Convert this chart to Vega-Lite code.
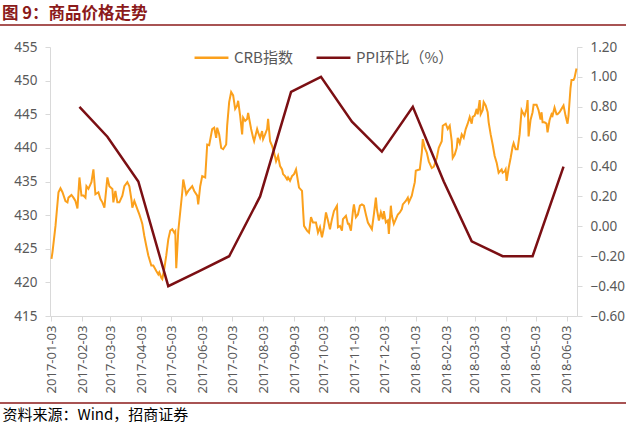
{
  "$schema": "https://vega.github.io/schema/vega-lite/v6.json",
  "width": 527,
  "height": 269,
  "autosize": {"type": "none"},
  "padding": {"left": 50, "top": 47, "right": 49, "bottom": 107},
  "background": "#ffffff",
  "title": {
    "text": "图 9：商品价格走势",
    "anchor": "start",
    "frame": "group",
    "orient": "top",
    "dx": -48,
    "offset": 2,
    "fontSize": 16.5,
    "fontWeight": "bold",
    "color": "#8B1A1A",
    "font": "Noto Sans CJK SC"
  },
  "config": {
    "view": {"stroke": null},
    "font": "Noto Sans CJK SC",
    "axis": {"grid": false, "labelOverlap": false}
  },
  "data": {
    "values": [
      {"series": "CRB指数", "date": "2017-01-03", "value": 423.5}, {"series": "CRB指数", "date": "2017-01-04", "value": 424.5}, {"series": "CRB指数", "date": "2017-01-07", "value": 428.4}, {"series": "CRB指数", "date": "2017-01-10", "value": 433.4}, {"series": "CRB指数", "date": "2017-01-12", "value": 434.0}, {"series": "CRB指数", "date": "2017-01-14", "value": 433.4}, {"series": "CRB指数", "date": "2017-01-17", "value": 432.1}, {"series": "CRB指数", "date": "2017-01-19", "value": 431.9}, {"series": "CRB指数", "date": "2017-01-20", "value": 432.6}, {"series": "CRB指数", "date": "2017-01-23", "value": 433.0}, {"series": "CRB指数", "date": "2017-01-25", "value": 432.6}, {"series": "CRB指数", "date": "2017-01-27", "value": 432.1}, {"series": "CRB指数", "date": "2017-01-29", "value": 431.0}, {"series": "CRB指数", "date": "2017-01-31", "value": 435.6},
      {"series": "CRB指数", "date": "2017-02-02", "value": 432.9}, {"series": "CRB指数", "date": "2017-02-04", "value": 432.9}, {"series": "CRB指数", "date": "2017-02-06", "value": 432.6}, {"series": "CRB指数", "date": "2017-02-07", "value": 434.3}, {"series": "CRB指数", "date": "2017-02-09", "value": 433.9}, {"series": "CRB指数", "date": "2017-02-12", "value": 434.9}, {"series": "CRB指数", "date": "2017-02-14", "value": 436.8}, {"series": "CRB指数", "date": "2017-02-16", "value": 433.1}, {"series": "CRB指数", "date": "2017-02-19", "value": 433.4}, {"series": "CRB指数", "date": "2017-02-21", "value": 432.4}, {"series": "CRB指数", "date": "2017-02-23", "value": 431.9}, {"series": "CRB指数", "date": "2017-02-25", "value": 431.1}, {"series": "CRB指数", "date": "2017-02-28", "value": 435.6},
      {"series": "CRB指数", "date": "2017-03-02", "value": 434.3}, {"series": "CRB指数", "date": "2017-03-05", "value": 433.9}, {"series": "CRB指数", "date": "2017-03-06", "value": 431.9}, {"series": "CRB指数", "date": "2017-03-08", "value": 433.6}, {"series": "CRB指数", "date": "2017-03-10", "value": 431.9}, {"series": "CRB指数", "date": "2017-03-12", "value": 431.9}, {"series": "CRB指数", "date": "2017-03-15", "value": 432.9}, {"series": "CRB指数", "date": "2017-03-17", "value": 434.3}, {"series": "CRB指数", "date": "2017-03-20", "value": 434.9}, {"series": "CRB指数", "date": "2017-03-22", "value": 434.3}, {"series": "CRB指数", "date": "2017-03-24", "value": 432.4}, {"series": "CRB指数", "date": "2017-03-25", "value": 431.1}, {"series": "CRB指数", "date": "2017-03-27", "value": 432.1}, {"series": "CRB指数", "date": "2017-03-30", "value": 430.9},
      {"series": "CRB指数", "date": "2017-04-01", "value": 430.1}, {"series": "CRB指数", "date": "2017-04-03", "value": 429.2}, {"series": "CRB指数", "date": "2017-04-04", "value": 428.7}, {"series": "CRB指数", "date": "2017-04-06", "value": 426.9}, {"series": "CRB指数", "date": "2017-04-08", "value": 425.4}, {"series": "CRB指数", "date": "2017-04-10", "value": 424.0}, {"series": "CRB指数", "date": "2017-04-13", "value": 422.5}, {"series": "CRB指数", "date": "2017-04-15", "value": 422.5}, {"series": "CRB指数", "date": "2017-04-18", "value": 421.7}, {"series": "CRB指数", "date": "2017-04-20", "value": 421.2}, {"series": "CRB指数", "date": "2017-04-21", "value": 421.5}, {"series": "CRB指数", "date": "2017-04-23", "value": 420.7}, {"series": "CRB指数", "date": "2017-04-24", "value": 420.5}, {"series": "CRB指数", "date": "2017-04-26", "value": 422.0}, {"series": "CRB指数", "date": "2017-04-28", "value": 424.0}, {"series": "CRB指数", "date": "2017-04-30", "value": 426.4},
      {"series": "CRB指数", "date": "2017-05-02", "value": 427.7}, {"series": "CRB指数", "date": "2017-05-04", "value": 427.9}, {"series": "CRB指数", "date": "2017-05-06", "value": 427.4}, {"series": "CRB指数", "date": "2017-05-07", "value": 427.6}, {"series": "CRB指数", "date": "2017-05-08", "value": 422.1}, {"series": "CRB指数", "date": "2017-05-10", "value": 427.6}, {"series": "CRB指数", "date": "2017-05-14", "value": 433.4}, {"series": "CRB指数", "date": "2017-05-15", "value": 435.3}, {"series": "CRB指数", "date": "2017-05-18", "value": 433.1}, {"series": "CRB指数", "date": "2017-05-20", "value": 433.6}, {"series": "CRB指数", "date": "2017-05-24", "value": 434.3}, {"series": "CRB指数", "date": "2017-05-26", "value": 433.6}, {"series": "CRB指数", "date": "2017-05-29", "value": 432.9}, {"series": "CRB指数", "date": "2017-05-30", "value": 431.6},
      {"series": "CRB指数", "date": "2017-06-01", "value": 434.3}, {"series": "CRB指数", "date": "2017-06-03", "value": 435.8}, {"series": "CRB指数", "date": "2017-06-06", "value": 435.6}, {"series": "CRB指数", "date": "2017-06-08", "value": 440.5}, {"series": "CRB指数", "date": "2017-06-10", "value": 440.4}, {"series": "CRB指数", "date": "2017-06-13", "value": 442.8}, {"series": "CRB指数", "date": "2017-06-15", "value": 443.0}, {"series": "CRB指数", "date": "2017-06-17", "value": 441.5}, {"series": "CRB指数", "date": "2017-06-18", "value": 443.0}, {"series": "CRB指数", "date": "2017-06-20", "value": 442.0}, {"series": "CRB指数", "date": "2017-06-22", "value": 440.0}, {"series": "CRB指数", "date": "2017-06-24", "value": 439.8}, {"series": "CRB指数", "date": "2017-06-27", "value": 440.5}, {"series": "CRB指数", "date": "2017-06-28", "value": 443.3}, {"series": "CRB指数", "date": "2017-06-30", "value": 446.8},
      {"series": "CRB指数", "date": "2017-07-02", "value": 448.3}, {"series": "CRB指数", "date": "2017-07-04", "value": 447.8}, {"series": "CRB指数", "date": "2017-07-06", "value": 445.8}, {"series": "CRB指数", "date": "2017-07-08", "value": 446.3}, {"series": "CRB指数", "date": "2017-07-09", "value": 447.0}, {"series": "CRB指数", "date": "2017-07-11", "value": 444.8}, {"series": "CRB指数", "date": "2017-07-13", "value": 442.0}, {"series": "CRB指数", "date": "2017-07-14", "value": 444.5}, {"series": "CRB指数", "date": "2017-07-16", "value": 444.0}, {"series": "CRB指数", "date": "2017-07-18", "value": 444.3}, {"series": "CRB指数", "date": "2017-07-19", "value": 445.2}, {"series": "CRB指数", "date": "2017-07-22", "value": 442.8}, {"series": "CRB指数", "date": "2017-07-24", "value": 441.5}, {"series": "CRB指数", "date": "2017-07-25", "value": 441.0}, {"series": "CRB指数", "date": "2017-07-28", "value": 442.8}, {"series": "CRB指数", "date": "2017-07-29", "value": 442.3}, {"series": "CRB指数", "date": "2017-07-31", "value": 441.5},
      {"series": "CRB指数", "date": "2017-08-02", "value": 442.5}, {"series": "CRB指数", "date": "2017-08-03", "value": 441.3}, {"series": "CRB指数", "date": "2017-08-05", "value": 442.0}, {"series": "CRB指数", "date": "2017-08-07", "value": 442.8}, {"series": "CRB指数", "date": "2017-08-08", "value": 444.3}, {"series": "CRB指数", "date": "2017-08-10", "value": 441.0}, {"series": "CRB指数", "date": "2017-08-12", "value": 440.3}, {"series": "CRB指数", "date": "2017-08-14", "value": 439.3}, {"series": "CRB指数", "date": "2017-08-16", "value": 438.0}, {"series": "CRB指数", "date": "2017-08-18", "value": 438.8}, {"series": "CRB指数", "date": "2017-08-20", "value": 437.3}, {"series": "CRB指数", "date": "2017-08-22", "value": 436.8}, {"series": "CRB指数", "date": "2017-08-23", "value": 436.1}, {"series": "CRB指数", "date": "2017-08-25", "value": 435.8}, {"series": "CRB指数", "date": "2017-08-27", "value": 435.3}, {"series": "CRB指数", "date": "2017-08-28", "value": 435.6}, {"series": "CRB指数", "date": "2017-08-30", "value": 435.1},
      {"series": "CRB指数", "date": "2017-09-01", "value": 435.8}, {"series": "CRB指数", "date": "2017-09-03", "value": 436.1}, {"series": "CRB指数", "date": "2017-09-05", "value": 436.8}, {"series": "CRB指数", "date": "2017-09-07", "value": 435.0}, {"series": "CRB指数", "date": "2017-09-08", "value": 434.1}, {"series": "CRB指数", "date": "2017-09-11", "value": 433.6}, {"series": "CRB指数", "date": "2017-09-12", "value": 430.9}, {"series": "CRB指数", "date": "2017-09-13", "value": 428.4}, {"series": "CRB指数", "date": "2017-09-16", "value": 427.7}, {"series": "CRB指数", "date": "2017-09-18", "value": 427.4}, {"series": "CRB指数", "date": "2017-09-20", "value": 429.7}, {"series": "CRB指数", "date": "2017-09-22", "value": 428.9}, {"series": "CRB指数", "date": "2017-09-25", "value": 428.9}, {"series": "CRB指数", "date": "2017-09-27", "value": 427.4}, {"series": "CRB指数", "date": "2017-09-29", "value": 428.2},
      {"series": "CRB指数", "date": "2017-10-01", "value": 426.7}, {"series": "CRB指数", "date": "2017-10-03", "value": 428.2}, {"series": "CRB指数", "date": "2017-10-05", "value": 430.4}, {"series": "CRB指数", "date": "2017-10-07", "value": 429.2}, {"series": "CRB指数", "date": "2017-10-09", "value": 427.9}, {"series": "CRB指数", "date": "2017-10-11", "value": 429.4}, {"series": "CRB指数", "date": "2017-10-13", "value": 430.6}, {"series": "CRB指数", "date": "2017-10-16", "value": 431.4}, {"series": "CRB指数", "date": "2017-10-17", "value": 428.2}, {"series": "CRB指数", "date": "2017-10-19", "value": 428.4}, {"series": "CRB指数", "date": "2017-10-21", "value": 427.7}, {"series": "CRB指数", "date": "2017-10-22", "value": 429.4}, {"series": "CRB指数", "date": "2017-10-25", "value": 429.9}, {"series": "CRB指数", "date": "2017-10-27", "value": 428.7}, {"series": "CRB指数", "date": "2017-10-28", "value": 428.7}, {"series": "CRB指数", "date": "2017-10-30", "value": 427.7},
      {"series": "CRB指数", "date": "2017-11-01", "value": 430.6}, {"series": "CRB指数", "date": "2017-11-02", "value": 431.6}, {"series": "CRB指数", "date": "2017-11-04", "value": 429.7}, {"series": "CRB指数", "date": "2017-11-06", "value": 430.1}, {"series": "CRB指数", "date": "2017-11-08", "value": 431.4}, {"series": "CRB指数", "date": "2017-11-10", "value": 431.6}, {"series": "CRB指数", "date": "2017-11-12", "value": 431.4}, {"series": "CRB指数", "date": "2017-11-14", "value": 430.1}, {"series": "CRB指数", "date": "2017-11-16", "value": 428.9}, {"series": "CRB指数", "date": "2017-11-18", "value": 428.4}, {"series": "CRB指数", "date": "2017-11-20", "value": 427.9}, {"series": "CRB指数", "date": "2017-11-22", "value": 430.1}, {"series": "CRB指数", "date": "2017-11-24", "value": 432.6}, {"series": "CRB指数", "date": "2017-11-25", "value": 430.9}, {"series": "CRB指数", "date": "2017-11-27", "value": 429.2}, {"series": "CRB指数", "date": "2017-11-29", "value": 430.4},
      {"series": "CRB指数", "date": "2017-12-01", "value": 429.4}, {"series": "CRB指数", "date": "2017-12-02", "value": 430.6}, {"series": "CRB指数", "date": "2017-12-04", "value": 428.9}, {"series": "CRB指数", "date": "2017-12-06", "value": 429.2}, {"series": "CRB指数", "date": "2017-12-07", "value": 427.2}, {"series": "CRB指数", "date": "2017-12-09", "value": 431.4}, {"series": "CRB指数", "date": "2017-12-10", "value": 429.9}, {"series": "CRB指数", "date": "2017-12-12", "value": 428.7}, {"series": "CRB指数", "date": "2017-12-14", "value": 429.4}, {"series": "CRB指数", "date": "2017-12-16", "value": 430.1}, {"series": "CRB指数", "date": "2017-12-18", "value": 430.4}, {"series": "CRB指数", "date": "2017-12-20", "value": 430.9}, {"series": "CRB指数", "date": "2017-12-21", "value": 431.6}, {"series": "CRB指数", "date": "2017-12-24", "value": 432.1}, {"series": "CRB指数", "date": "2017-12-26", "value": 432.6}, {"series": "CRB指数", "date": "2017-12-27", "value": 431.9}, {"series": "CRB指数", "date": "2017-12-30", "value": 432.9}, {"series": "CRB指数", "date": "2017-12-31", "value": 433.6},
      {"series": "CRB指数", "date": "2018-01-02", "value": 434.9}, {"series": "CRB指数", "date": "2018-01-03", "value": 436.6}, {"series": "CRB指数", "date": "2018-01-05", "value": 436.7}, {"series": "CRB指数", "date": "2018-01-07", "value": 436.8}, {"series": "CRB指数", "date": "2018-01-09", "value": 439.3}, {"series": "CRB指数", "date": "2018-01-10", "value": 441.3}, {"series": "CRB指数", "date": "2018-01-12", "value": 440.0}, {"series": "CRB指数", "date": "2018-01-14", "value": 439.3}, {"series": "CRB指数", "date": "2018-01-16", "value": 438.0}, {"series": "CRB指数", "date": "2018-01-19", "value": 437.0}, {"series": "CRB指数", "date": "2018-01-21", "value": 437.2}, {"series": "CRB指数", "date": "2018-01-24", "value": 438.5}, {"series": "CRB指数", "date": "2018-01-26", "value": 440.0}, {"series": "CRB指数", "date": "2018-01-29", "value": 441.0}, {"series": "CRB指数", "date": "2018-01-30", "value": 443.3},
      {"series": "CRB指数", "date": "2018-02-02", "value": 443.6}, {"series": "CRB指数", "date": "2018-02-04", "value": 442.8}, {"series": "CRB指数", "date": "2018-02-06", "value": 443.3}, {"series": "CRB指数", "date": "2018-02-08", "value": 441.0}, {"series": "CRB指数", "date": "2018-02-09", "value": 438.5}, {"series": "CRB指数", "date": "2018-02-11", "value": 439.0}, {"series": "CRB指数", "date": "2018-02-13", "value": 440.0}, {"series": "CRB指数", "date": "2018-02-14", "value": 441.5}, {"series": "CRB指数", "date": "2018-02-16", "value": 440.7}, {"series": "CRB指数", "date": "2018-02-18", "value": 442.0}, {"series": "CRB指数", "date": "2018-02-20", "value": 441.5}, {"series": "CRB指数", "date": "2018-02-22", "value": 442.8}, {"series": "CRB指数", "date": "2018-02-24", "value": 443.6}, {"series": "CRB指数", "date": "2018-02-26", "value": 444.6}, {"series": "CRB指数", "date": "2018-02-28", "value": 443.6},
      {"series": "CRB指数", "date": "2018-03-01", "value": 444.6}, {"series": "CRB指数", "date": "2018-03-03", "value": 444.8}, {"series": "CRB指数", "date": "2018-03-05", "value": 445.8}, {"series": "CRB指数", "date": "2018-03-06", "value": 445.0}, {"series": "CRB指数", "date": "2018-03-08", "value": 447.1}, {"series": "CRB指数", "date": "2018-03-09", "value": 445.0}, {"series": "CRB指数", "date": "2018-03-11", "value": 445.6}, {"series": "CRB指数", "date": "2018-03-12", "value": 446.8}, {"series": "CRB指数", "date": "2018-03-14", "value": 446.3}, {"series": "CRB指数", "date": "2018-03-16", "value": 445.3}, {"series": "CRB指数", "date": "2018-03-17", "value": 443.8}, {"series": "CRB指数", "date": "2018-03-19", "value": 442.0}, {"series": "CRB指数", "date": "2018-03-21", "value": 440.5}, {"series": "CRB指数", "date": "2018-03-23", "value": 438.8}, {"series": "CRB指数", "date": "2018-03-25", "value": 437.8}, {"series": "CRB指数", "date": "2018-03-27", "value": 436.3}, {"series": "CRB指数", "date": "2018-03-30", "value": 436.8}, {"series": "CRB指数", "date": "2018-03-31", "value": 436.3},
      {"series": "CRB指数", "date": "2018-04-02", "value": 436.5}, {"series": "CRB指数", "date": "2018-04-03", "value": 436.8}, {"series": "CRB指数", "date": "2018-04-04", "value": 435.1}, {"series": "CRB指数", "date": "2018-04-06", "value": 437.0}, {"series": "CRB指数", "date": "2018-04-08", "value": 438.5}, {"series": "CRB指数", "date": "2018-04-10", "value": 440.2}, {"series": "CRB指数", "date": "2018-04-11", "value": 440.7}, {"series": "CRB指数", "date": "2018-04-13", "value": 439.8}, {"series": "CRB指数", "date": "2018-04-15", "value": 439.8}, {"series": "CRB指数", "date": "2018-04-17", "value": 442.0}, {"series": "CRB指数", "date": "2018-04-19", "value": 445.6}, {"series": "CRB指数", "date": "2018-04-20", "value": 445.3}, {"series": "CRB指数", "date": "2018-04-22", "value": 444.8}, {"series": "CRB指数", "date": "2018-04-24", "value": 445.8}, {"series": "CRB指数", "date": "2018-04-25", "value": 447.1}, {"series": "CRB指数", "date": "2018-04-26", "value": 441.7}, {"series": "CRB指数", "date": "2018-04-28", "value": 444.2}, {"series": "CRB指数", "date": "2018-04-30", "value": 445.3},
      {"series": "CRB指数", "date": "2018-05-01", "value": 446.4}, {"series": "CRB指数", "date": "2018-05-04", "value": 446.4}, {"series": "CRB指数", "date": "2018-05-06", "value": 445.6}, {"series": "CRB指数", "date": "2018-05-08", "value": 444.2}, {"series": "CRB指数", "date": "2018-05-09", "value": 445.3}, {"series": "CRB指数", "date": "2018-05-10", "value": 443.8}, {"series": "CRB指数", "date": "2018-05-12", "value": 443.8}, {"series": "CRB指数", "date": "2018-05-14", "value": 443.6}, {"series": "CRB指数", "date": "2018-05-15", "value": 442.3}, {"series": "CRB指数", "date": "2018-05-17", "value": 444.1}, {"series": "CRB指数", "date": "2018-05-19", "value": 445.0}, {"series": "CRB指数", "date": "2018-05-20", "value": 444.8}, {"series": "CRB指数", "date": "2018-05-22", "value": 446.0}, {"series": "CRB指数", "date": "2018-05-24", "value": 445.0}, {"series": "CRB指数", "date": "2018-05-25", "value": 445.0}, {"series": "CRB指数", "date": "2018-05-27", "value": 445.3}, {"series": "CRB指数", "date": "2018-05-29", "value": 445.8}, {"series": "CRB指数", "date": "2018-05-31", "value": 446.3},
      {"series": "CRB指数", "date": "2018-06-02", "value": 444.8}, {"series": "CRB指数", "date": "2018-06-04", "value": 443.6}, {"series": "CRB指数", "date": "2018-06-05", "value": 444.8}, {"series": "CRB指数", "date": "2018-06-07", "value": 448.9}, {"series": "CRB指数", "date": "2018-06-08", "value": 450.1}, {"series": "CRB指数", "date": "2018-06-10", "value": 450.1}, {"series": "CRB指数", "date": "2018-06-11", "value": 450.4}, {"series": "CRB指数", "date": "2018-06-13", "value": 451.8},
      {"series": "PPI环比（%）", "date": "2017-01-31", "value": 0.8}, {"series": "PPI环比（%）", "date": "2017-02-28", "value": 0.6}, {"series": "PPI环比（%）", "date": "2017-03-31", "value": 0.3}, {"series": "PPI环比（%）", "date": "2017-04-30", "value": -0.4}, {"series": "PPI环比（%）", "date": "2017-05-31", "value": -0.3}, {"series": "PPI环比（%）", "date": "2017-06-30", "value": -0.2}, {"series": "PPI环比（%）", "date": "2017-07-31", "value": 0.2}, {"series": "PPI环比（%）", "date": "2017-08-31", "value": 0.9}, {"series": "PPI环比（%）", "date": "2017-09-30", "value": 1.0}, {"series": "PPI环比（%）", "date": "2017-10-31", "value": 0.7}, {"series": "PPI环比（%）", "date": "2017-11-30", "value": 0.5}, {"series": "PPI环比（%）", "date": "2017-12-31", "value": 0.8}, {"series": "PPI环比（%）", "date": "2018-01-31", "value": 0.3}, {"series": "PPI环比（%）", "date": "2018-02-28", "value": -0.1}, {"series": "PPI环比（%）", "date": "2018-03-31", "value": -0.2}, {"series": "PPI环比（%）", "date": "2018-04-30", "value": -0.2}, {"series": "PPI环比（%）", "date": "2018-05-31", "value": 0.4}
    ]
  },
  "layer": [
    {
      "transform": [{"filter": "datum.series === 'CRB指数'"}],
      "mark": {"type": "line", "strokeWidth": 2},
      "encoding": {
        "x": {
          "field": "date", "type": "temporal",
          "scale": {"type": "utc", "nice": false, "domain": ["2017-01-01T12:00:00Z", "2018-06-13T12:00:00Z"]},
          "axis": {
            "values": ["2017-01-03", "2017-02-03", "2017-03-03", "2017-04-03", "2017-05-03", "2017-06-03", "2017-07-03", "2017-08-03", "2017-09-03", "2017-10-03", "2017-11-03", "2017-12-03", "2018-01-03", "2018-02-03", "2018-03-03", "2018-04-03", "2018-05-03", "2018-06-03"],
            "labelExpr": "utcFormat(datum.value, '%Y-%m-%d')",
            "labelAngle": -90,
            "labelFont": "Noto Sans",
            "labelFontSize": 13,
            "labelColor": "#595959",
            "labelPadding": 4,
            "labelOverlap": false,
            "labelFlush": false,
            "tickSize": 5,
            "tickColor": "#D9D9D9",
            "domainColor": "#D9D9D9",
            "title": "资料来源：Wind，招商证券",
            "titleAnchor": "start",
            "titleAlign": "left",
            "titleX": -48,
            "titleY": 98,
            "titleBaseline": "middle",
            "titleFontSize": 15,
            "titleFontWeight": "normal",
            "titleColor": "#000000",
            "titleFont": "Noto Sans CJK SC"
          }
        },
        "y": {
          "field": "value", "type": "quantitative",
          "scale": {"domain": [415, 455], "nice": false, "zero": false},
          "axis": {
            "orient": "left",
            "values": [415, 420, 425, 430, 435, 440, 445, 450, 455],
            "title": null,
            "labelFont": "Noto Sans",
            "labelFontSize": 13.5,
            "labelColor": "#595959",
            "labelPadding": 8,
            "tickSize": 5,
            "tickColor": "#D9D9D9",
            "domainColor": "#D9D9D9"
          }
        },
        "color": {
          "field": "series", "type": "nominal",
          "scale": {"domain": ["CRB指数", "PPI环比（%）"], "range": ["#FBA01C", "#7B0F13"]},
          "legend": {
            "title": null, "orient": "none", "legendX": 143, "legendY": -8, "direction": "horizontal",
            "symbolType": "stroke", "symbolSize": 1150, "symbolStrokeWidth": 2.5,
            "labelFontSize": 15, "labelColor": "#595959", "labelOffset": 4, "columnPadding": 18,
            "labelFont": "Noto Sans CJK SC"
          }
        }
      }
    },
    {
      "transform": [{"filter": "datum.series === 'PPI环比（%）'"}],
      "mark": {"type": "line", "strokeWidth": 2.5},
      "encoding": {
        "x": {
          "field": "date", "type": "temporal", "axis": null,
          "scale": {"type": "utc", "nice": false, "domain": ["2017-01-01T12:00:00Z", "2018-06-13T12:00:00Z"]}
        },
        "y": {
          "field": "value", "type": "quantitative",
          "scale": {"domain": [-0.6, 1.2], "nice": false, "zero": false},
          "axis": {
            "orient": "right",
            "values": [-0.6, -0.4, -0.2, 0, 0.2, 0.4, 0.6, 0.8, 1.0, 1.2],
            "format": ".2f",
            "title": null,
            "labelFont": "Noto Sans",
            "labelFontSize": 13.5,
            "labelColor": "#595959",
            "labelPadding": 8,
            "tickSize": 5,
            "tickColor": "#D9D9D9",
            "domainColor": "#D9D9D9"
          }
        },
        "color": {
          "field": "series", "type": "nominal",
          "scale": {"domain": ["CRB指数", "PPI环比（%）"], "range": ["#FBA01C", "#7B0F13"]}
        }
      }
    },
    {
      "data": {"values": [{}]},
      "mark": {"type": "rule", "clip": false, "strokeWidth": 1.5, "color": "#8B1A1A"},
      "encoding": {
        "x": {"datum": {"year": 2016, "month": 9, "date": 1, "utc": true}, "type": "temporal", "axis": null,
              "scale": {"type": "utc", "nice": false, "domain": ["2017-01-01T12:00:00Z", "2018-06-13T12:00:00Z"]}},
        "x2": {"datum": {"year": 2018, "month": 10, "date": 1, "utc": true}},
        "y": {"datum": 1.347, "type": "quantitative", "axis": null, "scale": {"domain": [-0.6, 1.2], "nice": false, "zero": false}}
      }
    },
    {
      "data": {"values": [{}]},
      "mark": {"type": "rule", "clip": false, "strokeWidth": 1.5, "color": "#8B1A1A"},
      "encoding": {
        "x": {"datum": {"year": 2016, "month": 9, "date": 1, "utc": true}, "type": "temporal", "axis": null,
              "scale": {"type": "utc", "nice": false, "domain": ["2017-01-01T12:00:00Z", "2018-06-13T12:00:00Z"]}},
        "x2": {"datum": {"year": 2018, "month": 10, "date": 1, "utc": true}},
        "y": {"datum": -1.182, "type": "quantitative", "axis": null, "scale": {"domain": [-0.6, 1.2], "nice": false, "zero": false}}
      }
    }
  ],
  "resolve": {"scale": {"y": "independent", "x": "independent"}}
}
